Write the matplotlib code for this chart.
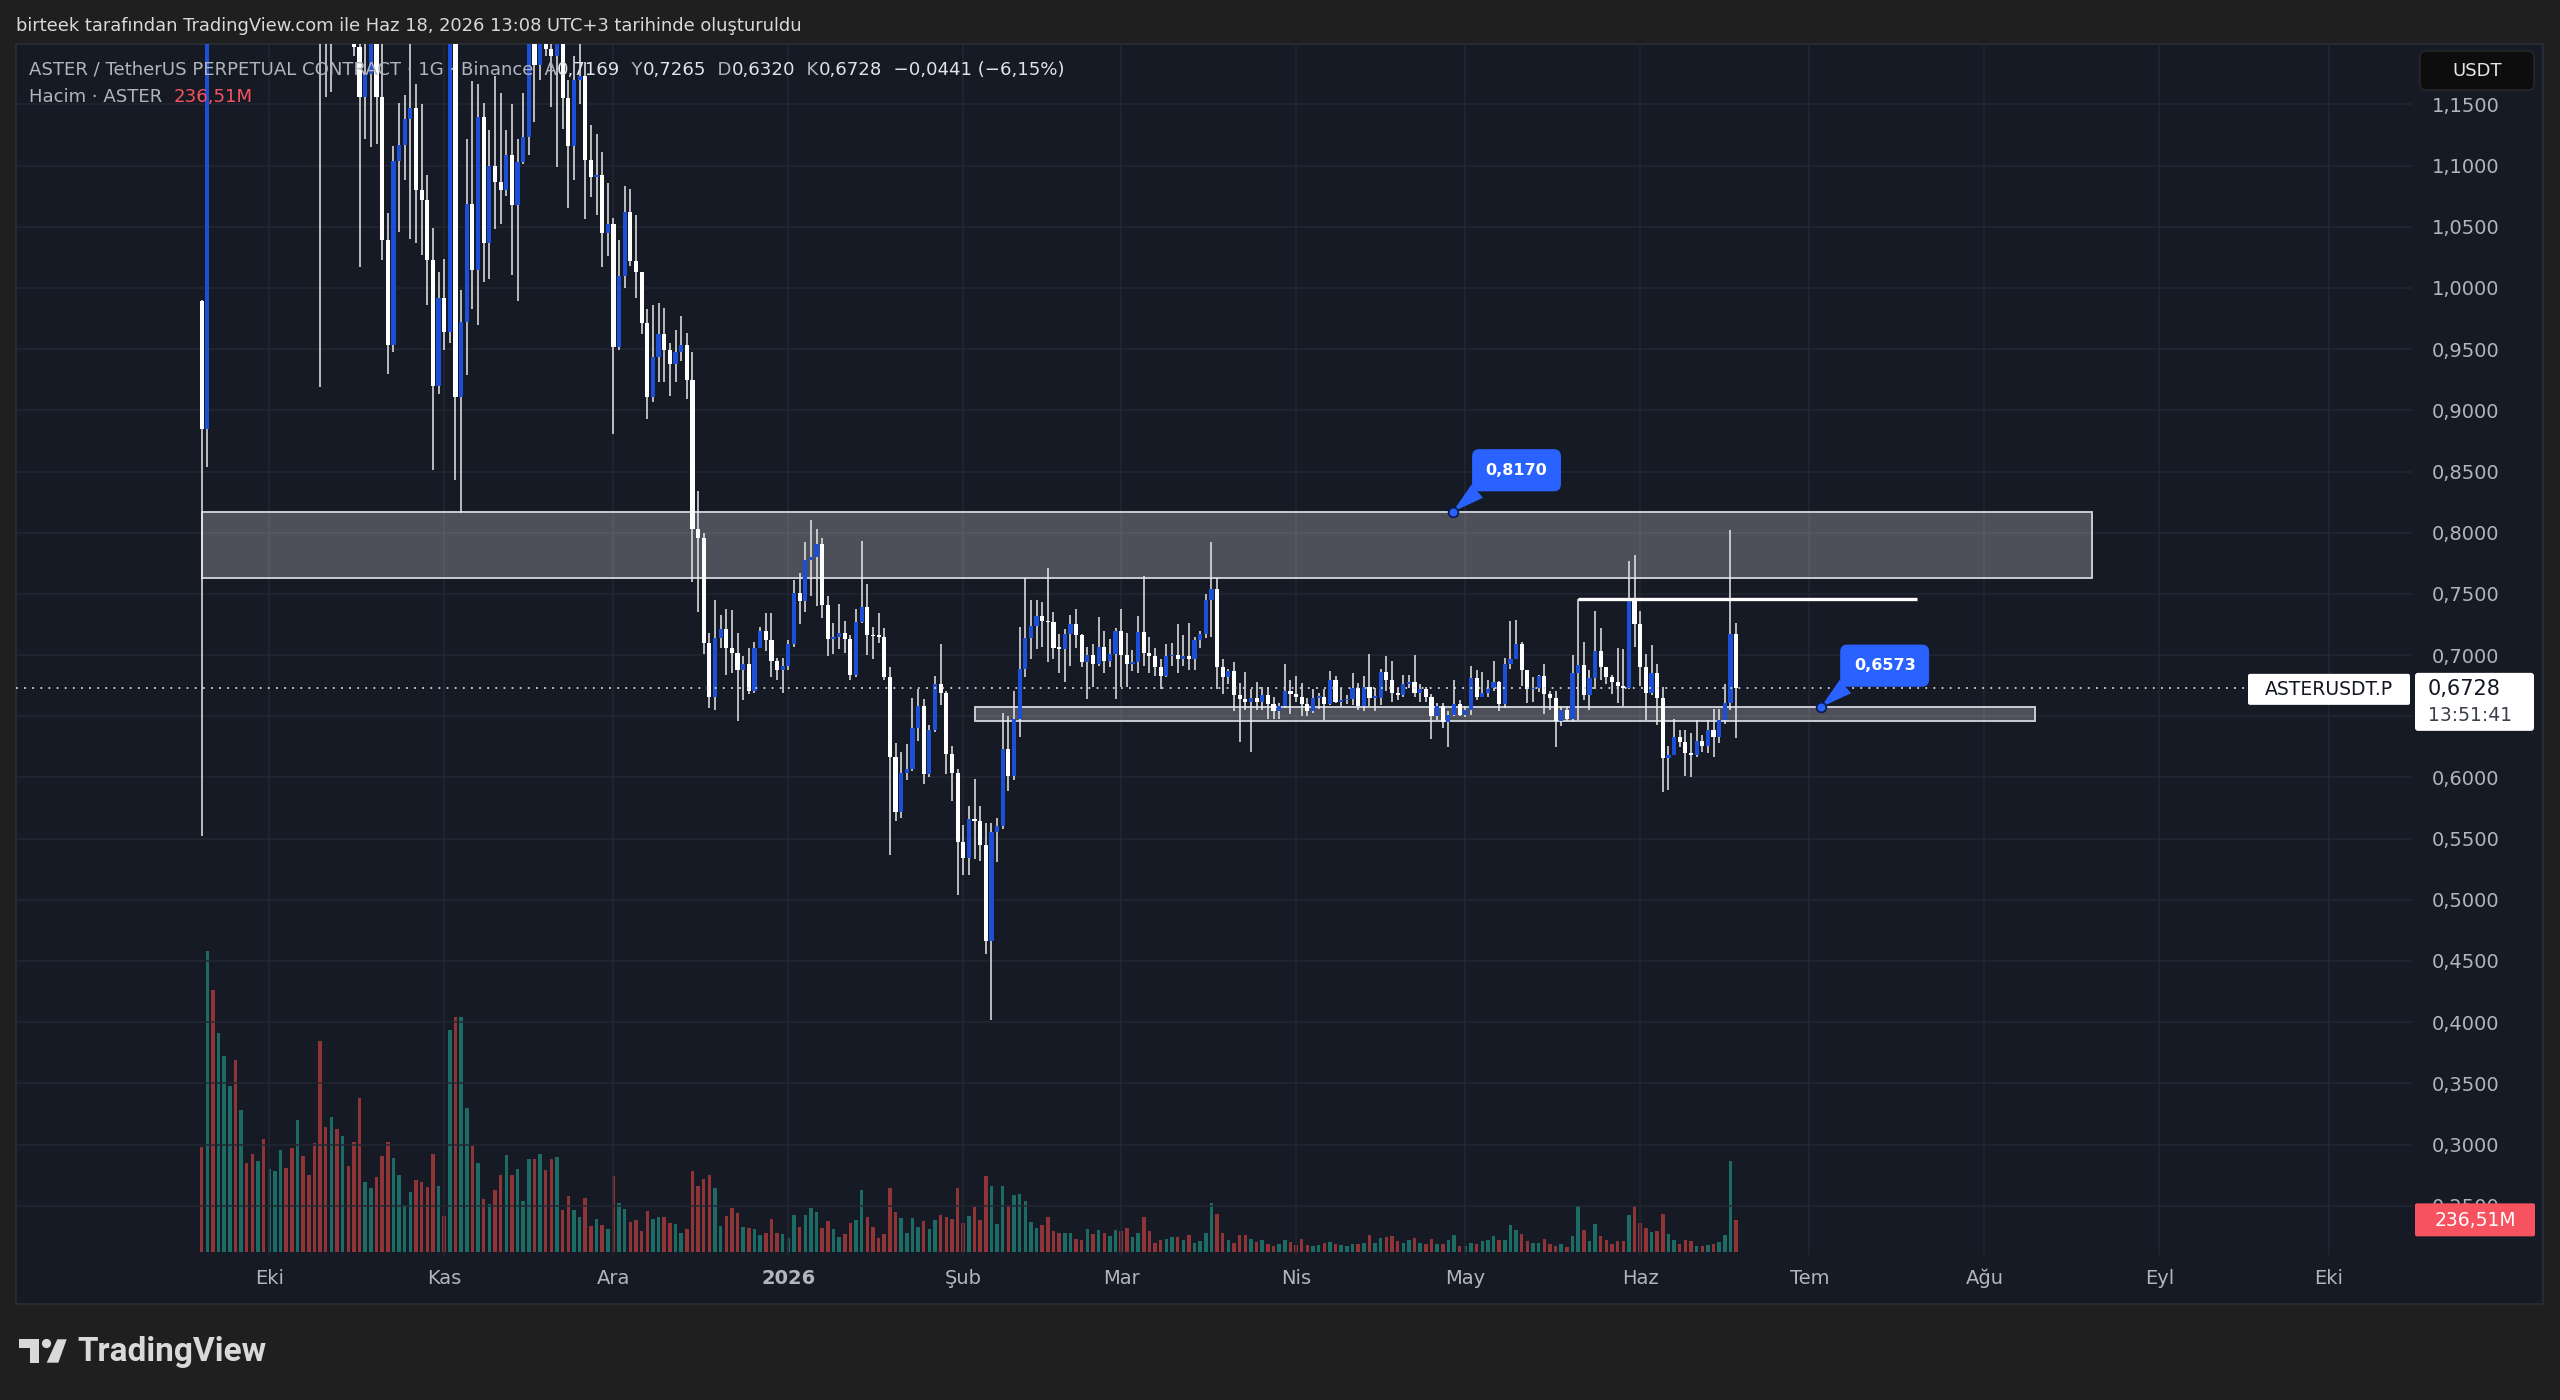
import datetime as dt
import numpy as np
import matplotlib
matplotlib.use("Agg")
import matplotlib.pyplot as plt
import matplotlib.dates as mdates
from matplotlib.patches import Rectangle, FancyBboxPatch, Polygon, Circle
from matplotlib.transforms import blended_transform_factory

W, H = 2560, 1400

# ---- data: ASTERUSDT.P daily candles (open = previous close) ----
start_day = dt.datetime(2025, 9, 19)
first_open = 0.989

closes = [
    0.885, 1.450, 1.400, 1.620, 1.850, 2.050, 1.850, 1.950, 1.800, 1.700,
    1.780, 1.650, 1.720, 1.800, 1.900, 1.820, 1.720, 1.800, 1.700, 1.550,
    1.450, 1.300, 1.270, 1.320, 1.280, 1.310, 1.250, 1.197, 1.156, 1.175,
    1.199, 1.156, 1.039, 0.953, 1.104, 1.117, 1.138, 1.147, 1.080, 1.072,
    1.023, 0.920, 0.992, 0.964, 1.220, 0.911, 0.972, 1.069, 1.015, 1.140,
    1.037, 1.100, 1.087, 1.080, 1.109, 1.068, 1.103, 1.123, 1.215, 1.182,
    1.205, 1.195, 1.190, 1.235, 1.155, 1.116, 1.170, 1.173, 1.105, 1.091,
    1.092, 1.045, 1.052, 0.952, 1.010, 1.062, 1.022, 1.013, 0.971, 0.911,
    0.944, 0.962, 0.949, 0.938, 0.948, 0.953, 0.925, 0.803, 0.796, 0.710,
    0.666, 0.714, 0.721, 0.706, 0.702, 0.688, 0.693, 0.671, 0.706, 0.720,
    0.712, 0.695, 0.688, 0.691, 0.709, 0.751, 0.744, 0.778, 0.780, 0.791,
    0.741, 0.713, 0.715, 0.718, 0.713, 0.684, 0.727, 0.739, 0.716, 0.7155,
    0.715, 0.682, 0.617, 0.572, 0.604, 0.607, 0.640, 0.658, 0.603, 0.639,
    0.676, 0.669, 0.619, 0.604, 0.547, 0.534, 0.566, 0.564, 0.545, 0.466,
    0.555, 0.560, 0.623, 0.601, 0.648, 0.689, 0.714, 0.724, 0.732, 0.728,
    0.727, 0.706, 0.705, 0.717, 0.725, 0.716, 0.694, 0.700, 0.693, 0.707,
    0.695, 0.701, 0.720, 0.700, 0.693, 0.694, 0.719, 0.702, 0.699, 0.690,
    0.683, 0.699, 0.700, 0.697, 0.699, 0.697, 0.712, 0.717, 0.745, 0.754,
    0.690, 0.682, 0.687, 0.667, 0.664, 0.662, 0.665, 0.662, 0.667, 0.660,
    0.654, 0.658, 0.671, 0.668, 0.666, 0.660, 0.654, 0.665, 0.666, 0.660,
    0.680, 0.662, 0.663, 0.664, 0.673, 0.658, 0.674, 0.665, 0.665, 0.686,
    0.680, 0.669, 0.667, 0.676, 0.678, 0.669, 0.672, 0.666, 0.650, 0.658,
    0.645, 0.651, 0.660, 0.651, 0.655, 0.681, 0.666, 0.669, 0.673, 0.678,
    0.660, 0.693, 0.697, 0.709, 0.688, 0.672, 0.673, 0.683, 0.668, 0.665,
    0.646, 0.655, 0.648, 0.685, 0.692, 0.667, 0.681, 0.703, 0.690, 0.682,
    0.678, 0.675, 0.673, 0.745, 0.725, 0.690, 0.669, 0.685, 0.665, 0.616,
    0.618, 0.633, 0.629, 0.620, 0.618, 0.630, 0.626, 0.639, 0.633, 0.647,
    0.661, 0.7169, 0.6728,
]

highs = [
    0.990, 1.600, 1.620, 1.700, 1.950, 2.300, 2.150, 2.050, 1.990, 1.850,
    1.840, 1.800, 1.780, 1.860, 1.980, 1.920, 1.850, 1.860, 1.820, 1.720,
    1.580, 1.480, 1.380, 1.400, 1.350, 1.360, 1.330, 1.270, 1.240, 1.230,
    1.250, 1.230, 1.210, 1.061, 1.116, 1.151, 1.158, 1.200, 1.167, 1.150,
    1.092, 1.049, 1.013, 1.024, 1.300, 1.250, 0.998, 1.122, 1.169, 1.167,
    1.151, 1.129, 1.173, 1.159, 1.129, 1.150, 1.122, 1.159, 1.280, 1.250,
    1.240, 1.270, 1.290, 1.280, 1.240, 1.170, 1.190, 1.200, 1.185, 1.133,
    1.126, 1.111, 1.086, 1.057, 1.039, 1.083, 1.081, 1.060, 1.013, 0.983,
    0.986, 0.988, 0.984, 0.955, 0.966, 0.977, 0.963, 0.948, 0.834, 0.800,
    0.718, 0.745, 0.733, 0.738, 0.737, 0.718, 0.699, 0.706, 0.711, 0.723,
    0.734, 0.734, 0.698, 0.698, 0.712, 0.761, 0.767, 0.792, 0.810, 0.803,
    0.796, 0.748, 0.726, 0.742, 0.728, 0.716, 0.738, 0.793, 0.758, 0.723,
    0.734, 0.722, 0.690, 0.628, 0.621, 0.627, 0.665, 0.672, 0.664, 0.643,
    0.683, 0.709, 0.671, 0.626, 0.607, 0.561, 0.577, 0.599, 0.577, 0.563,
    0.563, 0.567, 0.653, 0.650, 0.671, 0.723, 0.763, 0.745, 0.745, 0.743,
    0.771, 0.735, 0.717, 0.721, 0.733, 0.738, 0.717, 0.707, 0.709, 0.731,
    0.720, 0.713, 0.722, 0.738, 0.718, 0.704, 0.732, 0.765, 0.715, 0.706,
    0.697, 0.709, 0.710, 0.725, 0.716, 0.726, 0.715, 0.720, 0.750, 0.792,
    0.763, 0.697, 0.689, 0.694, 0.677, 0.686, 0.672, 0.678, 0.674, 0.674,
    0.666, 0.661, 0.693, 0.680, 0.683, 0.677, 0.665, 0.672, 0.669, 0.672,
    0.687, 0.683, 0.673, 0.667, 0.685, 0.677, 0.683, 0.701, 0.673, 0.689,
    0.699, 0.695, 0.673, 0.684, 0.684, 0.700, 0.676, 0.674, 0.668, 0.661,
    0.661, 0.654, 0.680, 0.663, 0.658, 0.691, 0.688, 0.686, 0.680, 0.695,
    0.679, 0.698, 0.728, 0.729, 0.711, 0.688, 0.682, 0.684, 0.693, 0.671,
    0.671, 0.658, 0.658, 0.700, 0.7458, 0.711, 0.688, 0.736, 0.722, 0.690,
    0.684, 0.706, 0.705, 0.777, 0.782, 0.736, 0.701, 0.708, 0.693, 0.674,
    0.626, 0.648, 0.639, 0.639, 0.636, 0.647, 0.635, 0.647, 0.656, 0.656,
    0.676, 0.802, 0.7265,
]

lows = [
    0.552, 0.854, 1.300, 1.380, 1.600, 1.820, 1.780, 1.820, 1.740, 1.620,
    1.660, 1.600, 1.620, 1.700, 1.780, 1.780, 1.680, 1.700, 1.640, 1.500,
    1.380, 0.919, 1.156, 1.160, 1.230, 1.250, 1.215, 1.190, 1.017, 1.122,
    1.115, 1.118, 1.023, 0.930, 0.948, 1.046, 1.088, 1.040, 1.037, 1.027,
    0.986, 0.851, 0.913, 0.949, 0.955, 0.843, 0.816, 0.929, 0.983, 0.970,
    1.005, 1.007, 1.048, 1.052, 1.075, 1.011, 0.989, 1.101, 1.109, 1.136,
    1.170, 1.190, 1.148, 1.099, 1.130, 1.065, 1.088, 1.150, 1.056, 1.074,
    1.060, 1.017, 1.026, 0.881, 0.949, 1.000, 1.018, 0.992, 0.962, 0.893,
    0.907, 0.923, 0.923, 0.912, 0.923, 0.940, 0.909, 0.760, 0.735, 0.701,
    0.657, 0.655, 0.706, 0.684, 0.685, 0.646, 0.663, 0.668, 0.669, 0.706,
    0.703, 0.682, 0.680, 0.669, 0.688, 0.707, 0.725, 0.735, 0.748, 0.740,
    0.730, 0.699, 0.701, 0.705, 0.702, 0.680, 0.682, 0.726, 0.700, 0.697,
    0.710, 0.680, 0.537, 0.564, 0.567, 0.598, 0.605, 0.630, 0.595, 0.600,
    0.637, 0.659, 0.603, 0.581, 0.504, 0.520, 0.520, 0.533, 0.532, 0.456,
    0.402, 0.531, 0.558, 0.589, 0.598, 0.633, 0.682, 0.697, 0.705, 0.707,
    0.694, 0.697, 0.685, 0.678, 0.691, 0.706, 0.690, 0.664, 0.674, 0.691,
    0.685, 0.690, 0.664, 0.674, 0.674, 0.687, 0.685, 0.691, 0.685, 0.683,
    0.672, 0.682, 0.691, 0.685, 0.691, 0.688, 0.688, 0.706, 0.714, 0.715,
    0.672, 0.668, 0.676, 0.654, 0.629, 0.655, 0.621, 0.655, 0.655, 0.648,
    0.648, 0.648, 0.657, 0.652, 0.662, 0.650, 0.650, 0.653, 0.656, 0.647,
    0.659, 0.661, 0.658, 0.660, 0.659, 0.655, 0.654, 0.658, 0.654, 0.659,
    0.671, 0.662, 0.663, 0.666, 0.673, 0.666, 0.662, 0.662, 0.631, 0.647,
    0.640, 0.625, 0.650, 0.650, 0.649, 0.651, 0.663, 0.666, 0.666, 0.671,
    0.654, 0.657, 0.689, 0.697, 0.675, 0.661, 0.662, 0.670, 0.652, 0.655,
    0.625, 0.642, 0.646, 0.645, 0.647, 0.663, 0.655, 0.672, 0.680, 0.676,
    0.668, 0.661, 0.658, 0.672, 0.707, 0.675, 0.647, 0.667, 0.643, 0.588,
    0.590, 0.618, 0.625, 0.601, 0.600, 0.617, 0.621, 0.620, 0.617, 0.628,
    0.644, 0.655, 0.632,
]

# volume in millions of ASTER
volumes = [
    783, 2246, 1952, 1631, 1462, 1239, 1430, 1057, 667, 734,
    679, 841, 617, 604, 759, 624, 773, 985, 716, 572,
    811, 1574, 933, 1007, 918, 865, 642, 823, 1146, 522,
    480, 560, 716, 823, 704, 572, 351, 450, 535, 525,
    485, 729, 492, 269, 1656, 1753, 1753, 1072, 791, 662,
    398, 361, 463, 572, 721, 575, 617, 381, 691, 696,
    734, 612, 691, 709, 311, 415, 311, 261, 405, 194,
    244, 201, 169, 567, 368, 318, 224, 236, 157, 306,
    249, 264, 264, 219, 206, 139, 169, 604, 492, 547,
    572, 480, 194, 269, 331, 288, 187, 177, 174, 124,
    142, 244, 144, 132, 107, 276, 189, 274, 326, 301,
    182, 231, 169, 112, 132, 214, 239, 463, 261, 187,
    107, 132, 480, 301, 251, 139, 256, 187, 231, 169,
    236, 274, 261, 249, 480, 219, 269, 336, 236, 567,
    492, 211, 495, 354, 423, 433, 383, 227, 180, 204,
    261, 160, 142, 142, 142, 100, 92, 174, 132, 162,
    144, 117, 162, 154, 182, 109, 142, 259, 154, 67,
    87, 95, 109, 109, 92, 124, 67, 80, 142, 368,
    281, 144, 92, 67, 127, 127, 97, 75, 92, 57,
    47, 62, 92, 72, 52, 99, 55, 47, 52, 70,
    72, 62, 52, 45, 57, 62, 67, 127, 67, 102,
    112, 117, 80, 67, 92, 102, 67, 62, 97, 62,
    62, 87, 127, 47, 42, 67, 62, 80, 87, 117,
    87, 87, 199, 162, 132, 82, 67, 67, 99, 62,
    47, 57, 37, 117, 341, 162, 80, 206, 117, 87,
    62, 80, 80, 274, 341, 216, 177, 147, 157, 284,
    132, 92, 57, 87, 82, 42, 45, 50, 60, 72,
    124, 679, 236.51,
]

month_dates = [dt.datetime(2025, 10, 1), dt.datetime(2025, 11, 1), dt.datetime(2025, 12, 1),
               dt.datetime(2026, 1, 1), dt.datetime(2026, 2, 1), dt.datetime(2026, 3, 1),
               dt.datetime(2026, 4, 1), dt.datetime(2026, 5, 1), dt.datetime(2026, 6, 1),
               dt.datetime(2026, 7, 1), dt.datetime(2026, 8, 1), dt.datetime(2026, 9, 1),
               dt.datetime(2026, 10, 1)]
month_labels = ["Eki", "Kas", "Ara", "2026", "Şub", "Mar", "Nis", "May", "Haz",
                "Tem", "Ağu", "Eyl", "Eki"]
price_ticks = [0.25, 0.30, 0.35, 0.40, 0.45, 0.50, 0.55, 0.60, 0.65, 0.70,
               0.75, 0.80, 0.85, 0.90, 0.95, 1.00, 1.05, 1.10, 1.15]

last_price = 0.6728
upper_zone = (dt.datetime(2025, 9, 19), dt.datetime(2026, 8, 20), 0.763, 0.817)
lower_zone = (dt.datetime(2026, 2, 3), dt.datetime(2026, 8, 10), 0.646, 0.6573)
res_line = (dt.datetime(2026, 5, 21), dt.datetime(2026, 7, 20), 0.7458)
callout_dates = [dt.datetime(2026, 4, 28, 18), dt.datetime(2026, 7, 3)]
callout_prices = [0.8170, 0.6573]

# ---- colours ----
OUTER = "#1f1f1f"
PANE = "#161a25"
GRID = "#232733"
BLUE = "#1c4fd8"
WHITE = "#ffffff"
VOL_UP = "#1c6c65"
VOL_DN = "#8f3538"
TXT = "#b2b5be"
LABEL_BLUE = "#2962ff"

plt.rcParams["font.family"] = ["DejaVu Sans"]

fig = plt.figure(figsize=(W / 100, H / 100), dpi=100, facecolor=OUTER)

bg = fig.add_axes([0, 0, 1, 1], zorder=0)
bg.set_xlim(0, W)
bg.set_ylim(H, 0)
bg.axis("off")
bg.add_patch(Rectangle((15.5, 43.5), 2527, 1260, facecolor=PANE, edgecolor="#2a2e39", lw=1.2))


def px_box(x0, y0, x1, y1):
    return [x0 / W, 1 - y1 / H, (x1 - x0) / W, (y1 - y0) / H]


plot_box = px_box(16, 44, 2412, 1255)
axv = fig.add_axes(plot_box, zorder=1)
ax = fig.add_axes(plot_box, zorder=2)

t0 = mdates.date2num(start_day)
n = len(closes)
xs = t0 + np.arange(n)
c = np.array(closes)
o = np.concatenate([[first_open], c[:-1]])
hi = np.array(highs)
lo = np.array(lows)
up = c >= o

xlim = (t0 - 32.9, t0 + 391.8)
for a in (axv, ax):
    a.set_facecolor("none")
    for s in a.spines.values():
        s.set_visible(False)
    a.set_xlim(*xlim)

# volume
axv.bar(xs, volumes, width=0.62, color=np.where(up, VOL_UP, VOL_DN), linewidth=0)
axv.set_ylim(-22, 9012)
axv.axis("off")

# price pane; the 0,6500 label sits under the last-price tag, as in TradingView
ax.set_ylim(0.2097, 1.1994)
ax.set_axisbelow(True)
ax.set_xticks(mdates.date2num(month_dates))
ax.set_yticks(price_ticks)
ax.set_yticklabels(["" if p == 0.65 else f"{p:.4f}".replace(".", ",") for p in price_ticks])
ax.yaxis.tick_right()
ax.tick_params(axis="y", length=0, pad=14, labelsize=14, labelcolor=TXT)
ax.tick_params(axis="x", length=0, labelbottom=False)
ax.grid(True, color=GRID, lw=1.1)

for d0, d1, p0, p1 in (upper_zone, lower_zone):
    x0, x1 = mdates.date2num(d0), mdates.date2num(d1)
    ax.add_patch(Rectangle((x0, p0), x1 - x0, p1 - p0, facecolor=(1, 1, 1, 0.24),
                           edgecolor="#c9ccd4", lw=1.4, zorder=1))

ax.vlines(xs, lo, hi, colors="#e8e8e8", lw=1.1, zorder=3)
body_lo = np.minimum(o, c)
body_h = np.maximum(np.abs(c - o), 0.0012)
ax.bar(xs, body_h, bottom=body_lo, width=0.74, color=np.where(up, BLUE, WHITE),
       linewidth=0, zorder=4)

ax.plot(mdates.date2num([res_line[0], res_line[1]]), [res_line[2], res_line[2]],
        color="white", lw=2.4, solid_capstyle="butt", zorder=5)
ax.axhline(last_price, color="#d1d4dc", lw=1.3, ls=(0, (1, 3.5)), zorder=6)

for d, p in zip(callout_dates, callout_prices):
    xd = mdates.date2num(d)
    ax.annotate(f"{p:.4f}".replace(".", ","), xy=(xd, p), xytext=(46, 30),
                textcoords="offset points", ha="center", va="center",
                color="white", fontsize=11.5, fontweight="bold", zorder=8,
                bbox=dict(boxstyle="round,pad=0.85,rounding_size=0.45", fc=LABEL_BLUE, ec="none"),
                arrowprops=dict(arrowstyle="wedge,tail_width=1.1,shrink_factor=0.5",
                                fc=LABEL_BLUE, ec="none", relpos=(0.15, 0.1),
                                shrinkA=0, shrinkB=0),
                annotation_clip=False)
    ax.plot([xd], [p], "o", ms=7, mfc=LABEL_BLUE, mec="#0b1d50", mew=1.3, zorder=9)

# time axis labels below the pane
tb = blended_transform_factory(ax.transData, ax.transAxes)
for d, lab in zip(month_dates, month_labels):
    ax.text(mdates.date2num(d), -0.019, lab, transform=tb, ha="center", va="center",
            fontsize=14, color=TXT, fontweight="bold" if lab == "2026" else "normal",
            clip_on=False)

# ---- overlay: texts and price-axis labels ----
ov = fig.add_axes([0, 0, 1, 1], zorder=5)
ov.set_xlim(0, W)
ov.set_ylim(H, 0)
ov.axis("off")
ov.patch.set_alpha(0)

ov.text(16, 26, "birteek tarafından TradingView.com ile Haz 18, 2026 13:08 UTC+3 tarihinde oluşturuldu",
        fontsize=12.9, color="#d9d9d9", va="center", ha="left")


def chain(parts, x, y, size):
    t = ov.text(x, y, parts[0][0], color=parts[0][1], fontsize=size, va="center", ha="left")
    for s, col in parts[1:]:
        t = ov.annotate(s, xy=(1, 0.5), xycoords=t, va="center", ha="left", color=col, fontsize=size)


VAL = "#e1e3ea"
chain([("ASTER / TetherUS PERPETUAL CONTRACT · 1G · Binance", TXT),
       ("  A", TXT), ("0,7169", VAL), ("  Y", TXT), ("0,7265", VAL),
       ("  D", TXT), ("0,6320", VAL), ("  K", TXT), ("0,6728", VAL),
       ("  −0,0441 (−6,15%)", VAL)], 29, 70, 13.1)
chain([("Hacim · ASTER  ", TXT), ("236,51M", "#f7525f")], 29, 97, 13.1)

# USDT button
ov.add_patch(FancyBboxPatch((2420, 51), 114, 39, boxstyle="round,pad=0,rounding_size=6",
                            fc="#0d0d0d", ec="#2a2a2a", lw=1))
ov.text(2477, 71, "USDT", color="#e6e6e6", fontsize=13, ha="center", va="center")

# current price labels, placed from the data scale
_, y_disp = ax.transData.transform((xs[0], last_price))
y_last = H - y_disp
ov.add_patch(FancyBboxPatch((2248, y_last - 14.5), 162, 31, boxstyle="round,pad=0,rounding_size=2",
                            fc="white", ec="none"))
ov.text(2329, y_last + 1, "ASTERUSDT.P", color="#131722", fontsize=13.5, ha="center", va="center")
ov.add_patch(FancyBboxPatch((2415, y_last - 15.5), 119, 58, boxstyle="round,pad=0,rounding_size=3",
                            fc="white", ec="none"))
ov.text(2428, y_last + 1, f"{last_price:.4f}".replace(".", ","), color="#131722",
        fontsize=15, ha="left", va="center")
ov.text(2428, y_last + 27, "13:51:41", color="#3b3f4a", fontsize=13.5, ha="left", va="center")

_, yv_disp = axv.transData.transform((xs[-1], volumes[-1]))
y_vol = H - yv_disp
ov.add_patch(FancyBboxPatch((2415, y_vol - 17), 120, 33, boxstyle="round,pad=0,rounding_size=2",
                            fc="#f7525f", ec="none"))
ov.text(2475, y_vol, "236,51M", color="white", fontsize=13.5, ha="center", va="center")

# TradingView logo
LOGO = "#d9d9d9"
ov.add_patch(Rectangle((19.3, 1339.3), 20, 9, fc=LOGO, ec="none"))
ov.add_patch(Rectangle((30, 1348), 9.3, 14.7, fc=LOGO, ec="none"))
ov.add_patch(Circle((46.5, 1343.5), 4.6, fc=LOGO, ec="none"))
ov.add_patch(Polygon([(57.3, 1339.3), (66.7, 1339.3), (58.3, 1362.7), (46.7, 1362.7)],
                     closed=True, fc=LOGO, ec="none"))
ov.text(77, 1352, "TradingView", color=LOGO, fontsize=24, fontweight="bold",
        family=["Roboto", "DejaVu Sans"], ha="left", va="center")

fig.savefig("out.png", dpi=100, facecolor=OUTER)
